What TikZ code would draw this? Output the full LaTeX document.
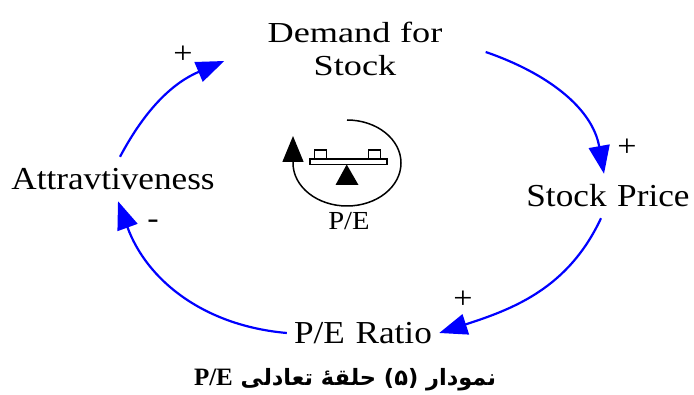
\documentclass[tikz,border=0pt]{standalone}
\usepackage{fontspec}
\setmainfont{Liberation Serif}
\newfontfamily\lblfont[FakeStretch=1.1]{Liberation Serif}
\newfontfamily\demfont[FakeStretch=1.25]{Liberation Serif}
\newfontfamily\arabicfont[Script=Arabic]{DejaVu Sans}
\TeXXeTstate=1
\usepackage{tikz}
\usetikzlibrary{arrows.meta}

\begin{document}
\begin{tikzpicture}[x=1pt,y=1pt,
    var/.style={font=\lblfont\fontsize{32}{36}\selectfont,inner sep=0pt,align=center},
    link/.style={draw=blue,line width=2.2pt,-{Triangle[length=28pt,width=21pt]}},
    pol/.style={font=\lblfont\fontsize{31}{33}\selectfont,inner sep=0pt}]
    \useasboundingbox (0,0) rectangle (694,-395);
    \node[var,font=\demfont\fontsize{29}{33}\selectfont,text width=175pt,inner xsep=43pt,minimum height=64pt] (dem) at (355,-49) {Demand for\\Stock};
    \node[var,text width=170pt,minimum height=44pt] (price) at (608,-196) {Stock Price};
    \node[var,text width=140pt,inner xsep=6pt] (ratio) at (363,-333) {P/E Ratio};
    \node[var,text width=205pt,minimum height=44pt] (attr) at (113,-179) {Attravtiveness};
    \draw[link] ([yshift=-3pt]dem.east) to[out=-19,in=100] ([xshift=-4pt]price.north);
    \draw[link] ([xshift=-7pt]price.south) to[out=-115,in=18] (ratio.east);
    \draw[link] (ratio.west) to[out=175,in=-70] ([xshift=5pt]attr.south);
    \draw[link] ([xshift=7pt]attr.north) to[out=62,in=203] ([yshift=-12pt]dem.west);
    \node[pol] (p1) at (627,-148) {+};
    \node[pol] (p2) at (463,-300) {+};
    \node[pol] (p3) at (153,-224) {-};
    \node[pol] (p4) at (183,-55) {+};
    \draw[line width=1.5pt,-{Triangle[length=26pt,width=21pt]}] (347,-120) arc[start angle=90,end angle=-180,x radius=54pt,y radius=43pt] -- ++(0,27);
    \filldraw[fill=white,line width=1.2pt] (314.5,-159) rectangle (326.5,-150);
    \filldraw[fill=white,line width=1.2pt] (368.5,-159) rectangle (380.5,-150);
    \filldraw[fill=white,line width=1.2pt] (310,-159) rectangle (387,-164.5);
    \fill (346.7,-164.5) -- (358.5,-185) -- (335.5,-185) -- cycle;
    \node[font=\lblfont\fontsize{26}{28}\selectfont,inner sep=0pt] (loop) at (349,-221) {P/E};
    \node[inner sep=0pt] (caption) at (345,-380) {\arabicfont\bfseries\fontsize{22.5}{24}\selectfont\beginR نمودار (۵) حلقهٔ تعادلی \beginL{\rmfamily\bfseries\fontsize{25}{26}\selectfont P/E}\endL\endR};
\end{tikzpicture}
\end{document}
